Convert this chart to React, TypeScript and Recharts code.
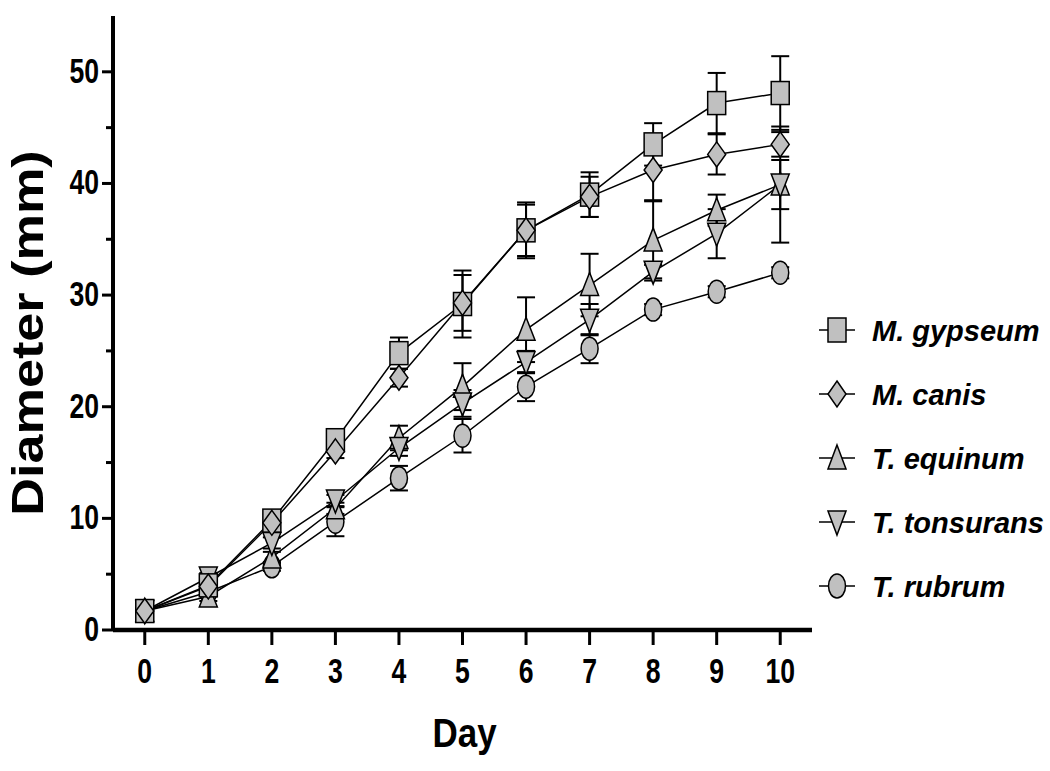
import React from 'react';
import { LineChart, Line, XAxis, YAxis, ErrorBar } from 'recharts';

const days = [0, 1, 2, 3, 4, 5, 6, 7, 8, 9, 10];
const yTicks = [0, 5, 10, 15, 20, 25, 30, 35, 40, 45, 50];

const gypseum = [1.7, 4.0, 9.8, 17.0, 24.8, 29.2, 35.8, 39.0, 43.5, 47.2, 48.1];
const gypseumSd = [0.3, 0.5, 0.6, 1.0, 1.4, 3.0, 2.5, 2.0, 1.9, 2.7, 3.3];
const canis = [1.7, 3.9, 9.6, 16.0, 22.6, 29.3, 35.8, 38.8, 41.2, 42.6, 43.5];
const canisSd = [0.3, 0.5, 0.5, 0.6, 0.8, 2.5, 2.3, 1.8, 2.8, 1.8, 1.1];
const equinum = [1.7, 3.0, 6.5, 10.9, 17.2, 21.8, 26.9, 30.9, 34.9, 37.6, 39.9];
const equinumSd = [0.3, 0.4, 0.5, 0.5, 1.1, 2.1, 2.9, 2.8, 3.6, 1.4, 2.2];
const tonsurans = [1.7, 4.7, 7.8, 11.6, 16.3, 20.3, 24.0, 27.8, 32.1, 35.5, 39.9];
const tonsuransSd = [0.3, 0.4, 0.5, 0.5, 0.7, 1.2, 1.0, 1.4, 0.6, 2.2, 5.2];
const rubrum = [1.7, 3.4, 5.7, 9.7, 13.6, 17.4, 21.8, 25.2, 28.7, 30.3, 32.0];
const rubrumSd = [0.2, 0.3, 0.4, 1.3, 1.1, 1.5, 1.3, 1.3, 0.5, 0.5, 0.5];

type Shape = 'square' | 'diamond' | 'triUp' | 'triDown' | 'circle';

const seriesDefs: { key: string; name: string; shape: Shape; values: number[]; sd: number[] }[] = [
  { key: 'gypseum', name: 'M. gypseum', shape: 'square', values: gypseum, sd: gypseumSd },
  { key: 'canis', name: 'M. canis', shape: 'diamond', values: canis, sd: canisSd },
  { key: 'equinum', name: 'T. equinum', shape: 'triUp', values: equinum, sd: equinumSd },
  { key: 'tonsurans', name: 'T. tonsurans', shape: 'triDown', values: tonsurans, sd: tonsuransSd },
  { key: 'rubrum', name: 'T. rubrum', shape: 'circle', values: rubrum, sd: rubrumSd },
];

// drawing order (bottom to top)
const drawOrder = ['rubrum', 'equinum', 'tonsurans', 'gypseum', 'canis'];

const data = days.map((d, i) => {
  const row: Record<string, number> = { day: d };
  seriesDefs.forEach((s) => {
    row[s.key] = s.values[i];
    row[s.key + 'Sd'] = s.sd[i];
  });
  return row;
});

const FILL = '#c0c0c0';
const FONT = "'Liberation Sans', Arial, Helvetica, sans-serif";
const Y_AXIS_X = 113;
const X_AXIS_Y = 630;

function MarkerShape({ cx, cy, shape, w = 18, h = 23 }: { cx: number; cy: number; shape: Shape; w?: number; h?: number }) {
  const hw = w / 2;
  const hh = h / 2;
  const common = { fill: FILL, stroke: '#000', strokeWidth: 1.5 };
  switch (shape) {
    case 'square':
      return <rect x={cx - hw} y={cy - hh} width={w} height={h} {...common} />;
    case 'diamond':
      return <polygon points={`${cx},${cy - hh - 1} ${cx + hw},${cy} ${cx},${cy + hh + 1} ${cx - hw},${cy}`} {...common} />;
    case 'triUp':
      return <polygon points={`${cx},${cy - hh - 1} ${cx + hw},${cy + hh - 1} ${cx - hw},${cy + hh - 1}`} {...common} />;
    case 'triDown':
      return <polygon points={`${cx},${cy + hh + 1} ${cx + hw},${cy - hh + 1} ${cx - hw},${cy - hh + 1}`} {...common} />;
    default:
      return <ellipse cx={cx} cy={cy} rx={hw - 0.5} ry={hh} {...common} />;
  }
}

const makeDot = (shape: Shape) => (props: any) => {
  if (props.cx == null || props.cy == null) return <g key={`${shape}-${props.index}`} />;
  return (
    <g key={`${shape}-${props.index}`}>
      <MarkerShape cx={props.cx} cy={props.cy} shape={shape} />
    </g>
  );
};

const YTick = (props: any) => {
  const { y, payload } = props;
  const x = Y_AXIS_X;
  const v = payload.value as number;
  const major = v % 10 === 0;
  return (
    <g>
      <line x1={x - (major ? 11 : 7)} x2={x} y1={y} y2={y} stroke="#000" strokeWidth={3} />
      {major && (
        <text
          transform={`translate(${x - 14},${y + 11}) scale(0.95,1.22)`}
          textAnchor="end"
          fontFamily={FONT}
          fontWeight="bold"
          fontSize={28}
          fill="#000"
        >
          {v}
        </text>
      )}
    </g>
  );
};

const XTick = (props: any) => {
  const { x, payload } = props;
  const y = X_AXIS_Y;
  return (
    <g>
      <line x1={x} x2={x} y1={y} y2={y + 15} stroke="#000" strokeWidth={3} />
      <text
        transform={`translate(${x},${y + 53}) scale(0.95,1.22)`}
        textAnchor="middle"
        fontFamily={FONT}
        fontWeight="bold"
        fontSize={28}
        fill="#000"
      >
        {payload.value}
      </text>
    </g>
  );
};

function LegendBox() {
  return (
    <svg width={238} height={320} style={{ position: 'absolute', left: 812, top: 300 }}>
      {seriesDefs.map((s, i) => {
        const cy = 30 + i * 64;
        return (
          <g key={s.key}>
            <line x1={7} x2={43} y1={cy} y2={cy} stroke="#000" strokeWidth={1.5} />
            <MarkerShape cx={25} cy={cy} shape={s.shape} w={18} h={24} />
            <text
              x={60}
              y={cy + 11}
              fontFamily={FONT}
              fontWeight="bold"
              fontStyle="italic"
              fontSize={29}
              fill="#000"
            >
              {s.name}
            </text>
          </g>
        );
      })}
    </svg>
  );
}

export default function App() {
  const ordered = drawOrder.map((k) => seriesDefs.find((s) => s.key === k)!);
  return (
    <div style={{ position: 'absolute', left: 0, top: 0, width: 1050, height: 771, background: '#fff' }}>
      <LineChart
        width={1050}
        height={771}
        data={data}
        margin={{ top: 16, left: 53, right: 238, bottom: 81 }}
      >
        <XAxis
          dataKey="day"
          type="number"
          domain={[-0.5, 10.5]}
          ticks={days}
          height={60}
          axisLine={{ stroke: '#000', strokeWidth: 4.5 }}
          tickLine={false}
          tick={<XTick />}
          interval={0}
        />
        <YAxis
          type="number"
          domain={[0, 55]}
          ticks={yTicks}
          width={60}
          axisLine={{ stroke: '#000', strokeWidth: 4 }}
          tickLine={false}
          tick={<YTick />}
          interval={0}
        />
        {ordered.map((s) => (
          <Line
            key={s.key}
            dataKey={s.key}
            name={s.name}
            type="linear"
            stroke="#000"
            strokeWidth={1.5}
            dot={makeDot(s.shape)}
            activeDot={false}
            isAnimationActive={false}
          >
            <ErrorBar dataKey={s.key + 'Sd'} direction="y" width={9} stroke="#000" strokeWidth={2} />
          </Line>
        ))}
      </LineChart>
      <svg width={1050} height={771} style={{ position: 'absolute', left: 0, top: 0, pointerEvents: 'none' }}>
        <text
          transform="translate(43,333) rotate(-90) scale(1.16,1)"
          textAnchor="middle"
          fontFamily={FONT}
          fontWeight="bold"
          fontSize={45}
          fill="#000"
        >
          Diameter (mm)
        </text>
        <text
          transform="translate(464.5,747) scale(1,1.18)"
          textAnchor="middle"
          fontFamily={FONT}
          fontWeight="bold"
          fontSize={35}
          fill="#000"
        >
          Day
        </text>
      </svg>
      <LegendBox />
    </div>
  );
}
